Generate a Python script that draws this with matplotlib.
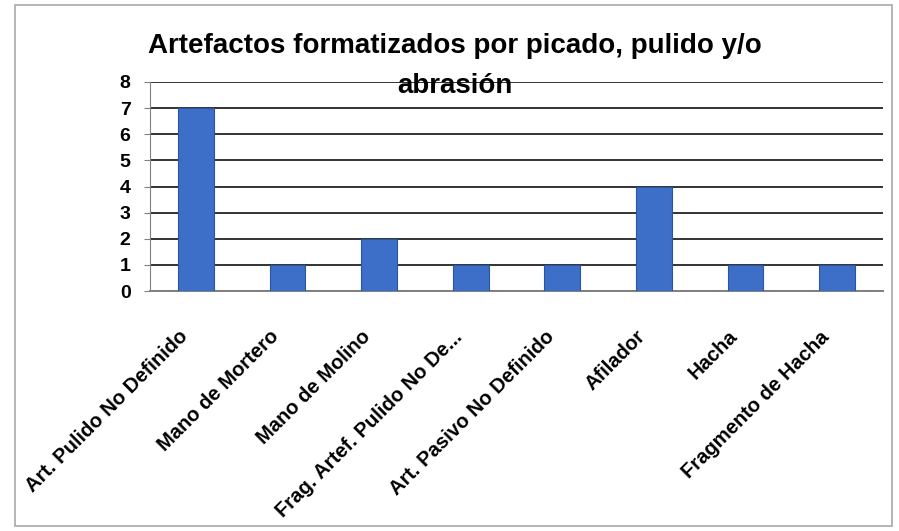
import matplotlib
matplotlib.use("Agg")
import matplotlib.pyplot as plt
from matplotlib.patches import Rectangle
from matplotlib.transforms import ScaledTranslation

categories = ["Art. Pulido No Definido", "Mano de Mortero", "Mano de Molino",
              "Frag. Artef. Pulido No De...", "Art. Pasivo No Definido",
              "Afilador", "Hacha", "Fragmento de Hacha"]
values = [7, 1, 2, 1, 1, 4, 1, 1]
yticks = [0, 1, 2, 3, 4, 5, 6, 7, 8]
title = "Artefactos formatizados por picado, pulido y/o\nabrasión"

plt.rcParams['font.family'] = ['Liberation Sans', 'DejaVu Sans']

fig = plt.figure(figsize=(8.99, 5.31), dpi=100)
fig.patch.set_facecolor('white')
fig.add_artist(Rectangle((15/899, 5/531), 877/899, 521/531, transform=fig.transFigure,
                         fill=False, edgecolor='#a8a8a8', linewidth=1.2))

ax = fig.add_axes([150/899, 1 - 291/531, 733/899, 209/531])
x = list(range(len(categories)))
ax.bar(x, values, width=0.39, color='#3d6fc8', edgecolor='#2a55a0', linewidth=0.8, zorder=3)
ax.set_xlim(-0.5, len(categories) - 0.5)
ax.set_ylim(0, 8)
ax.set_yticks(yticks)
ax.set_yticklabels([str(t) for t in yticks], fontsize=14, fontweight='bold')
ax.yaxis.grid(True, color='#333333', linewidth=1.4, zorder=0)
ax.set_axisbelow(True)
for s in ['top', 'right']:
    ax.spines[s].set_visible(False)
ax.spines['left'].set_color('#808080')
ax.spines['bottom'].set_color('#808080')
ax.spines['bottom'].set_linewidth(1.4)
ax.tick_params(axis='y', length=4, color='#808080', pad=10)
ax.tick_params(axis='x', length=0, pad=26)
ax.set_xticks(x)
ax.set_xticklabels(categories, rotation=45, ha='right', rotation_mode='anchor',
                   fontsize=14.5, fontweight='bold')
offset = ScaledTranslation(-18/100, 0, fig.dpi_scale_trans)
for lab in ax.get_xticklabels():
    lab.set_transform(lab.get_transform() + offset)

fig.text(455/899, 1 - 66/531, title, ha='center', va='center', fontsize=20,
         fontweight='bold', linespacing=1.68)

fig.savefig("out.png", dpi=100)
